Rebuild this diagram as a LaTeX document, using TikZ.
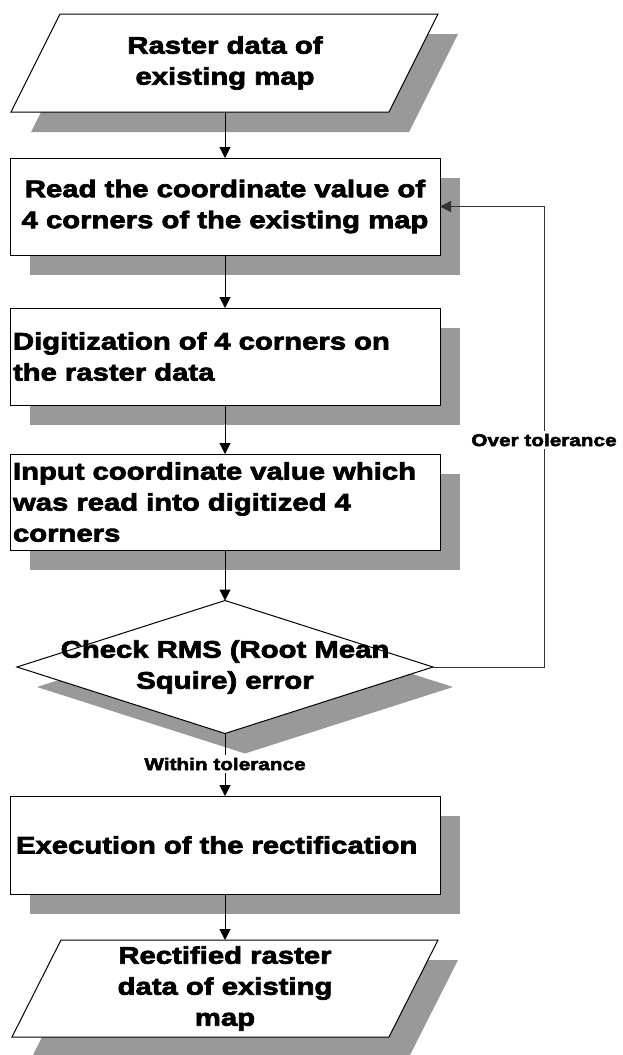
\documentclass[tikz,border=0pt]{standalone}
\usepackage{fontspec}
\newfontfamily\hf{Liberation Sans}[FakeStretch=1.22,BoldFeatures={FakeBold=3}]
\usetikzlibrary{shapes.geometric,shadows,arrows.meta}
\definecolor{shgray}{RGB}{153,153,153}
\tikzset{
  shd/.style={drop shadow={shadow xshift=20pt, shadow yshift=-20pt, fill=shgray, opacity=1}},
  box/.style={draw, line width=1pt, fill=white, minimum width=430pt, minimum height=97pt,
              inner sep=0pt, outer sep=0pt, shd},
  txt/.style={font=\hf\bfseries\fontsize{24}{31}\selectfont},
  lbl/.style={font=\hf\bfseries\fontsize{17}{20}\selectfont, fill=white, inner sep=3pt},
  arr/.style={line width=1pt, -{Triangle[length=11pt,width=11pt]}},
  ln/.style={line width=1pt},
  para/.style={draw, line width=1pt, fill=white},
  parashd/.style={fill=shgray},
}
\begin{document}
\begin{tikzpicture}[x=1pt,y=-1pt]
\useasboundingbox (0,0) rectangle (623,1055);

% Parallelogram 1
\fill[parashd] (80,34) -- (458,34) -- (409,132) -- (31,132) -- cycle;
\draw[para] (60,14) -- (438,14) -- (389,112) -- (11,112) -- cycle;
\node[txt, align=center, minimum height=98pt, inner sep=0pt, outer sep=0pt] (p1) at (225,63) {Raster data of\\existing map};

% Boxes
\node[box, txt, align=center] (b2) at (225,206.5) {Read the coordinate value of\\4 corners of the existing map};
\node[box, txt, align=left, text width=424pt] (b3) at (225,356.5) {Digitization of 4 corners on\\the raster data};
\node[box, txt, align=left, text width=424pt, minimum height=96pt] (b4) at (225,502) {Input coordinate value which\\was read into digitized 4\\corners};

% Decision
\node[diamond, draw, line width=1pt, fill=white, minimum width=416pt, minimum height=133pt,
      inner sep=0pt, outer sep=0pt, shd] (d) at (225,667) {};
\node[txt, align=center] (dt) at (225,667) {Check RMS (Root Mean\\Squire) error};

% Box 5
\node[box, txt, align=left, text width=418pt, minimum height=98pt] (b5) at (225,845) {Execution of the rectification};

% Parallelogram 2
\fill[parashd] (81,960) -- (458,960) -- (409,1057) -- (32,1057) -- cycle;
\draw[para] (61,940) -- (438,940) -- (389,1037) -- (12,1037) -- cycle;
\node[txt, align=center, minimum height=97pt, inner sep=0pt, outer sep=0pt] (p6) at (225,988.5) {Rectified raster\\data of existing\\map};

% Connectors
\draw[arr] (p1.south) -- (b2.north);
\draw[arr] (b2.south) -- (b3.north);
\draw[arr] (b3.south) -- (b4.north);
\draw[arr] (b4.south) -- (d.north);
\node[lbl] (wl) at (225,764) {Within tolerance};
\draw[ln] (d.south) -- (wl.north);
\draw[arr] (wl.south) -- (b5.north);
\draw[arr] (b5.south) -- (p6.north);

\coordinate (c1) at (544,667);
\coordinate (c2) at (544,206.5);
\draw[arr, draw=black!80] (d.east) -- (c1) -- (c2) -- (b2.east);
\node[lbl] (ot) at (544,440) {Over tolerance};
\end{tikzpicture}
\end{document}
